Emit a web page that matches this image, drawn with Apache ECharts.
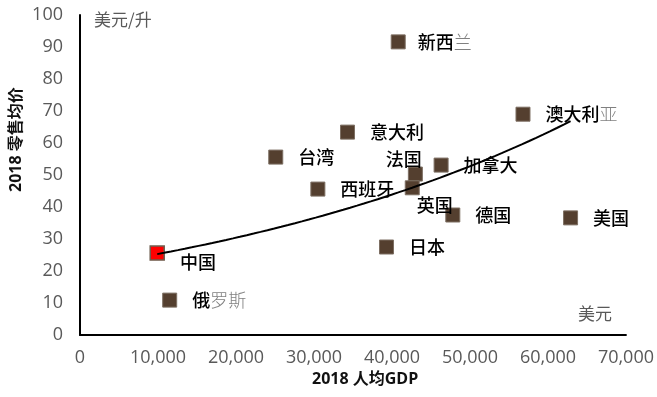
<!DOCTYPE html>
<html>
<head>
<meta charset="utf-8">
<script src="https://cdn.jsdelivr.net/npm/echarts@6/dist/echarts.min.js"></script>
<style>
  html, body { margin: 0; padding: 0; background: #fff; }
  #chart { width: 657px; height: 397px; }
</style>
</head>
<body>
<div id="chart"></div>
<script>
// 2018 per-capita GDP (USD) vs average retail price (USD/litre)
const countries = ['新西兰', '澳大利亚', '意大利', '台湾', '加拿大', '法国', '英国', '西班牙', '德国', '美国', '日本', '中国', '俄罗斯'];
const gdpPerCapita = [40800, 56800, 34300, 25100, 46300, 43000, 42600, 30500, 47800, 62900, 39300, 9900, 11500];
const retailPrice = [91.6, 69.0, 63.4, 55.6, 53.1, 50.3, 46.0, 45.6, 37.5, 36.6, 27.5, 25.6, 10.9];
const xTicks = [0, 10000, 20000, 30000, 40000, 50000, 60000, 70000];
const yTicks = [0, 10, 20, 30, 40, 50, 60, 70, 80, 90, 100];
const highlight = '中国';

// Trailing characters drawn in a lighter grey (fallback glyphs)
const lightChars = { '新西兰': 1, '澳大利亚': 1, '俄罗斯': 2 };

// Label placement tweaks: [dx, dy] relative to the default right-side label
const labelShift = {
  '法国': [-52, -15],
  '英国': [-18, 17],
  '中国': [0, 9],
  '新西兰': [-3, 0]
};

const FONT = '"Open Sans", "Noto Sans CJK SC", sans-serif';
const CJK = '"Noto Sans CJK SC", sans-serif';

// Exponential trend fit: ln(y) = ln(a) + b*x
function expFit(xs, ys) {
  const n = xs.length;
  const ly = ys.map(v => Math.log(v));
  const mx = xs.reduce((s, v) => s + v, 0) / n;
  const my = ly.reduce((s, v) => s + v, 0) / n;
  let sxy = 0, sxx = 0;
  for (let i = 0; i < n; i++) {
    sxy += (xs[i] - mx) * (ly[i] - my);
    sxx += (xs[i] - mx) * (xs[i] - mx);
  }
  const b = sxy / sxx;
  const a = Math.exp(my - b * mx);
  return x => a * Math.exp(b * x);
}
const trend = expFit(gdpPerCapita, retailPrice);
const xMin = Math.min(...gdpPerCapita), xMax = Math.max(...gdpPerCapita);
const trendPoints = [];
const steps = 60;
for (let i = 0; i <= steps; i++) {
  const x = xMin + (xMax - xMin) * i / steps;
  trendPoints.push([x, trend(x)]);
}

function labelText(name) {
  const k = lightChars[name];
  if (k) {
    const cut = name.length - k;
    return '{d|' + name.slice(0, cut) + '}{l|' + name.slice(cut) + '}';
  }
  return '{d|' + name + '}';
}

const points = countries.map((name, i) => {
  const shift = labelShift[name] || [0, 0];
  const isHi = name === highlight;
  return {
    name: name,
    value: [gdpPerCapita[i], retailPrice[i]],
    itemStyle: isHi
      ? { color: '#ff0000', borderColor: '#6e5d4e', borderWidth: 1.5, opacity: 1 }
      : { color: '#543f2f', borderColor: '#7d6f63', borderWidth: 1, opacity: 1 },
    label: { offset: shift }
  };
});

const chart = echarts.init(document.getElementById('chart'), null, { renderer: 'canvas' });
chart.setOption({
  animation: false,
  backgroundColor: '#ffffff',
  grid: { left: 80, right: 30, top: 15, bottom: 62, containLabel: false },
  xAxis: {
    type: 'value',
    min: xTicks[0],
    max: xTicks[xTicks.length - 1],
    interval: xTicks[1] - xTicks[0],
    axisLine: { show: true, lineStyle: { color: '#000', width: 2 } },
    axisTick: { show: false },
    splitLine: { show: false },
    axisLabel: {
      margin: 14,
      color: '#595959',
      fontSize: 18,
      fontFamily: FONT,
      formatter: v => v.toLocaleString('en-US')
    }
  },
  yAxis: {
    type: 'value',
    min: yTicks[0],
    max: yTicks[yTicks.length - 1],
    interval: yTicks[1] - yTicks[0],
    axisLine: { show: true, lineStyle: { color: '#000', width: 2 } },
    axisTick: { show: false },
    splitLine: { show: false },
    axisLabel: {
      margin: 17,
      color: '#595959',
      fontSize: 18,
      fontFamily: FONT
    }
  },
  graphic: [
    {
      type: 'text', left: 312, top: 371,
      style: { text: '2018 人均GDP', font: 'bold 16px ' + FONT, fill: '#111' }
    },
    {
      type: 'text', x: 8, y: 192, rotation: Math.PI / 2,
      style: { text: '2018 零售均价', font: 'bold 16px ' + FONT, fill: '#111' }
    },
    {
      type: 'text', left: 94, top: 11,
      style: { text: '美元/升', font: '17px ' + CJK, fill: '#595959' }
    },
    {
      type: 'text', left: 578, top: 305,
      style: { text: '美元', font: '17px ' + CJK, fill: '#595959' }
    }
  ],
  series: [
    {
      type: 'scatter',
      symbol: 'rect',
      symbolSize: 14,
      data: points,
      z: 2,
      label: {
        show: true,
        position: 'right',
        distance: 15,
        formatter: p => labelText(p.name),
        rich: {
          d: { fontSize: 18, fontFamily: CJK, color: '#000', fontWeight: 500 },
          l: { fontSize: 18, fontFamily: CJK, color: '#808080', fontWeight: 300 }
        }
      }
    },
    {
      type: 'line',
      data: trendPoints,
      showSymbol: false,
      smooth: false,
      z: 3,
      lineStyle: { color: '#000', width: 2 },
      silent: true
    }
  ]
});
</script>
</body>
</html>
